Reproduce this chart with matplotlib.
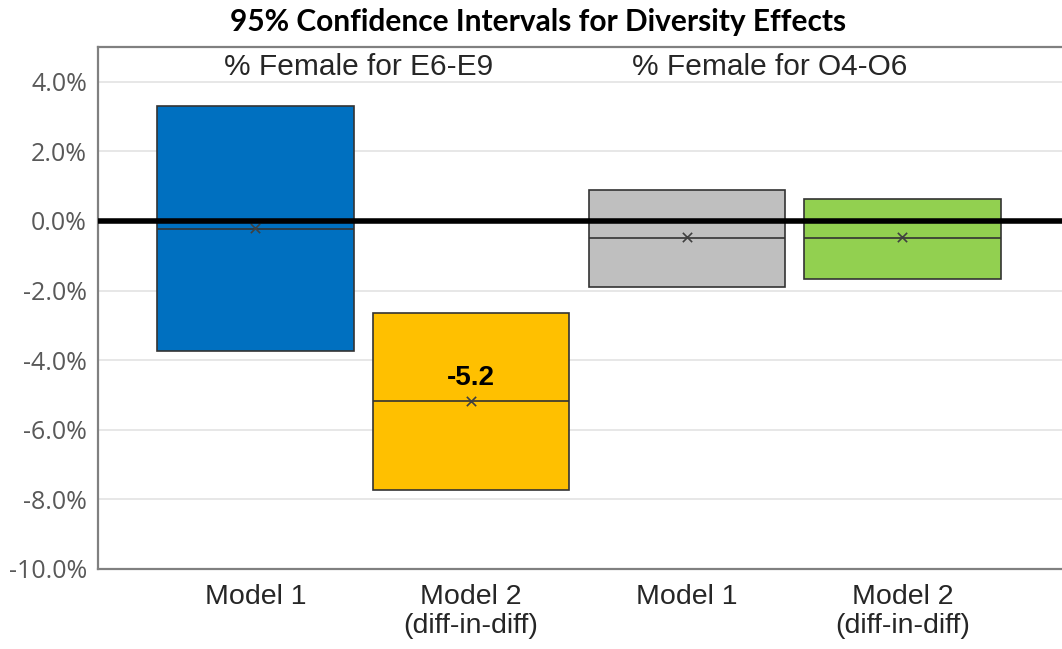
import matplotlib
matplotlib.use("Agg")
import matplotlib.pyplot as plt
import numpy as np
from matplotlib.ticker import FuncFormatter

# Data (percent)
categories = ["Model 1", "Model 2\n(diff-in-diff)", "Model 1", "Model 2\n(diff-in-diff)"]
ci_low = [-3.75, -7.72, -1.90, -1.67]
ci_high = [3.30, -2.65, 0.88, 0.64]
medians = [-0.22, -5.18, -0.50, -0.50]
means = [-0.20, -5.18, -0.46, -0.46]
colors = ["#0070C0", "#FFC000", "#BFBFBF", "#92D050"]
group_titles = ["% Female for E6-E9", "% Female for O4-O6"]
highlight_label = "-5.2"
yticks = [4, 2, 0, -2, -4, -6, -8, -10]

fig = plt.figure(figsize=(10.62, 6.49), dpi=100)
ax = fig.add_axes([0.0923, 0.1233, 0.9077, 0.8043])

x = np.arange(len(categories))
width = 0.91
heights = [h - l for h, l in zip(ci_high, ci_low)]
ax.bar(x, heights, bottom=ci_low, width=width, color=colors,
       edgecolor="#333333", linewidth=1.2, zorder=2)
ax.hlines(medians, x - width / 2, x + width / 2, color="#333333", linewidth=1.2, zorder=3)
ax.scatter(x, means, marker="x", s=45, color="#404040", linewidths=1.2, zorder=4)
ax.axhline(0, color="black", linewidth=4, zorder=5)

ax.text(x[1], medians[1] + 0.3, highlight_label, ha="center", va="bottom",
        fontsize=20, fontweight="bold", family="Liberation Sans", zorder=6)

ax.set_xlim(-0.73, 3.74)
ax.set_ylim(-10, 5)
ax.set_yticks(yticks)
ax.yaxis.set_major_formatter(FuncFormatter(lambda v, p: f"{v:.1f}%"))
ax.grid(axis="y", color="#e3e3e3", linewidth=1.2, zorder=0)
ax.set_axisbelow(True)
ax.tick_params(axis="y", length=0, pad=8, labelsize=18, labelcolor="#595959")
ax.tick_params(axis="x", length=0, pad=11, labelsize=20.5, labelcolor="#262626")
for lab in ax.get_yticklabels():
    lab.set_family("Open Sans")
    lab.set_y(lab.get_position()[1])
ax.set_xticks(x)
ax.set_xticklabels(categories, family="Liberation Sans", linespacing=1.15)
for lab in ax.get_xticklabels():
    lab.set_verticalalignment("top")

for s in ["left", "bottom", "top"]:
    ax.spines[s].set_color("#808080")
    ax.spines[s].set_linewidth(1.6)
ax.spines["right"].set_visible(False)

ax.text(0.27, 0.962, group_titles[0], transform=ax.transAxes, ha="center", va="center",
        fontsize=21.5, family="Liberation Sans", color="#262626")
ax.text(0.697, 0.962, group_titles[1], transform=ax.transAxes, ha="center", va="center",
        fontsize=21.5, family="Liberation Sans", color="#262626")

fig.text(538 / 1062, 1 - 22 / 649, "95% Confidence Intervals for Diversity Effects",
         ha="center", va="center", fontsize=21.5, fontweight="bold", family="Lato")

fig.savefig("out.png", dpi=100)
